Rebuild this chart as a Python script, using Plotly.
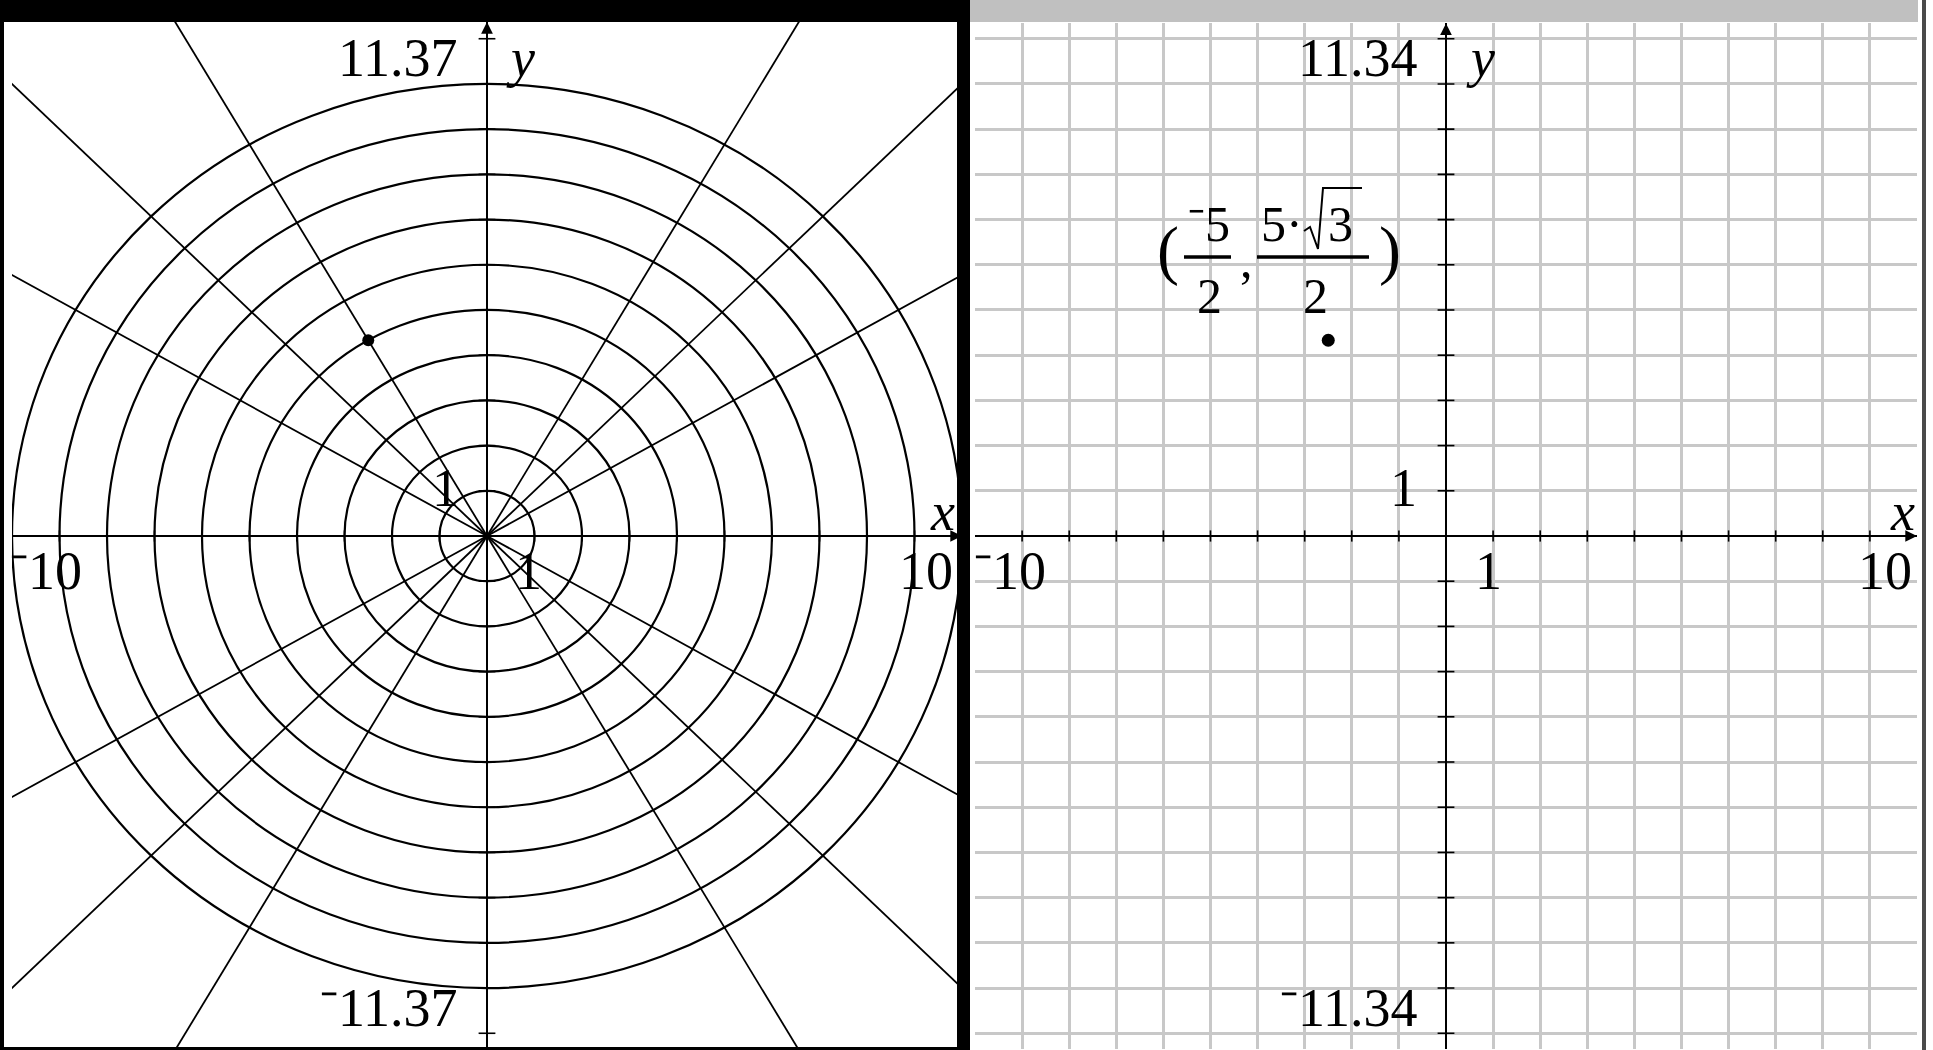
import numpy as np
import plotly.graph_objects as go

W, H = 1933, 1050
FONT = "Liberation Serif"

# polar grid and point
radii = [1, 2, 3, 4, 5, 6, 7, 8, 9, 10]
ray_angles_deg = [0, 30, 45, 60, 90, 120, 135, 150, 180, 210, 225, 240, 270, 300, 315, 330]
point_r = 5
point_theta_deg = 120

# window settings of the two graphs
x_window = [-10, 10]
y_window_polar = [-11.37, 11.37]
y_window_rect = [-11.34, 11.34]
x_tick_values = [-9, -8, -7, -6, -5, -4, -3, -2, -1, 1, 2, 3, 4, 5, 6, 7, 8, 9]
y_tick_values = [-11, -10, -9, -8, -7, -6, -5, -4, -3, -2, -1, 1, 2, 3, 4, 5, 6, 7, 8, 9, 10, 11]

polar_labels = {"ymax": "11.37", "ymin": "\u207b11.37", "xmin": "\u207b10", "xmax": "10", "unit": "1"}
rect_labels = {"ymax": "11.34", "ymin": "\u207b11.34", "xmin": "\u207b10", "xmax": "10", "unit": "1"}


def px(x):
    return x / W


def py(y):
    return 1 - y / H


point_x = point_r * np.cos(np.radians(point_theta_deg))
point_y = point_r * np.sin(np.radians(point_theta_deg))

fig = go.Figure()

# rays of the polar grid (long segments, clipped by the axes)
ray_x, ray_y = [], []
for a in ray_angles_deg:
    ray_x += [0, 30 * np.cos(np.radians(a)), None]
    ray_y += [0, 30 * np.sin(np.radians(a)), None]
fig.add_trace(go.Scatter(x=ray_x, y=ray_y, mode="lines", line=dict(color="black", width=1.8),
                         xaxis="x", yaxis="y", hoverinfo="skip", showlegend=False))

# ticks on both graphs
for xa, ya in [("x", "y"), ("x2", "y2")]:
    fig.add_trace(go.Scatter(x=x_tick_values, y=[0] * len(x_tick_values), mode="markers",
                             marker=dict(symbol="line-ns", size=8, line=dict(color="black", width=1.6)),
                             xaxis=xa, yaxis=ya, hoverinfo="skip", showlegend=False))
    fig.add_trace(go.Scatter(x=[0] * len(y_tick_values), y=y_tick_values, mode="markers",
                             marker=dict(symbol="line-ew", size=12, line=dict(color="black", width=1.6)),
                             xaxis=xa, yaxis=ya, hoverinfo="skip", showlegend=False))

# the point on both graphs
fig.add_trace(go.Scatter(x=[point_x], y=[point_y], mode="markers", marker=dict(color="black", size=12),
                         xaxis="x", yaxis="y", showlegend=False))
fig.add_trace(go.Scatter(x=[point_x], y=[point_y], mode="markers", marker=dict(color="black", size=13),
                         xaxis="x2", yaxis="y2", showlegend=False))

shapes = []
for r in radii:
    shapes.append(dict(type="circle", xref="x", yref="y", x0=-r, x1=r, y0=-r, y1=r,
                       line=dict(color="black", width=2.2), layer="above"))

# frames around the two screens
shapes += [
    dict(type="rect", xref="paper", yref="paper", x0=px(0), x1=px(970), y0=py(22), y1=py(0),
         fillcolor="black", line=dict(width=0), layer="above"),
    dict(type="rect", xref="paper", yref="paper", x0=px(0), x1=px(4), y0=py(1050), y1=py(0),
         fillcolor="black", line=dict(width=0), layer="above"),
    dict(type="rect", xref="paper", yref="paper", x0=px(957), x1=px(970), y0=py(1050), y1=py(0),
         fillcolor="black", line=dict(width=0), layer="above"),
    dict(type="rect", xref="paper", yref="paper", x0=px(0), x1=px(970), y0=py(1050), y1=py(1047),
         fillcolor="black", line=dict(width=0), layer="above"),
    dict(type="rect", xref="paper", yref="paper", x0=px(970), x1=px(1918), y0=py(22), y1=py(0),
         fillcolor="#c0c0c0", line=dict(width=0), layer="above"),
    dict(type="rect", xref="paper", yref="paper", x0=px(1922), x1=px(1926), y0=py(1050), y1=py(0),
         fillcolor="#4a4a4a", line=dict(width=0), layer="above"),
]

# fraction bars and radical sign of the coordinate label
root = [(1304, 231), (1310, 227), (1318, 249), (1323, 188), (1362, 188)]
root_path = "M " + " L ".join(f"{px(a):.5f} {py(b):.5f}" for a, b in root)
shapes += [
    dict(type="line", xref="paper", yref="paper", x0=px(1184), x1=px(1231), y0=py(257), y1=py(257),
         line=dict(color="black", width=3.5)),
    dict(type="line", xref="paper", yref="paper", x0=px(1257), x1=px(1369), y0=py(257), y1=py(257),
         line=dict(color="black", width=3.5)),
    dict(type="path", xref="paper", yref="paper", path=root_path, line=dict(color="black", width=2)),
]


def label(text, x, y, size=54, xanchor="center", yanchor="middle", italic=False):
    return dict(text=f"<i>{text}</i>" if italic else text, x=px(x), y=py(y), xref="paper", yref="paper",
                xanchor=xanchor, yanchor=yanchor, showarrow=False,
                font=dict(family=FONT, size=size, color="black"))


annotations = [
    # polar graph
    label(polar_labels["ymax"], 460, 58, xanchor="right"),
    label(polar_labels["ymin"], 460, 1008, xanchor="right"),
    label(polar_labels["xmin"], 8, 571, xanchor="left"),
    label(polar_labels["xmax"], 955, 571, xanchor="right"),
    label(polar_labels["unit"], 445, 488),
    label(polar_labels["unit"], 528, 571),
    label("y", 520, 58, italic=True),
    label("x", 942, 512, italic=True),
    # rectangular graph
    label(rect_labels["ymax"], 1420, 58, xanchor="right"),
    label(rect_labels["ymin"], 1420, 1008, xanchor="right"),
    label(rect_labels["xmin"], 972, 571, xanchor="left"),
    label(rect_labels["xmax"], 1914, 571, xanchor="right"),
    label(rect_labels["unit"], 1403, 488),
    label(rect_labels["unit"], 1488, 571),
    label("y", 1480, 58, italic=True),
    label("x", 1902, 512, italic=True),
    # coordinate label of the point
    label("(", 1168, 250, size=66),
    label("\u207b5", 1209, 224, size=50),
    label("2", 1209, 296, size=50),
    label(",", 1246, 260, size=50),
    label("5\u00b7", 1282, 224, size=50),
    label("3", 1340, 224, size=50),
    label("2", 1315, 296, size=50),
    label(")", 1390, 250, size=66),
]

# axis arrows
for xa, ya, ytop in [("x", "y", y_window_polar[1]), ("x2", "y2", y_window_rect[1])]:
    annotations.append(dict(x=0, y=ytop, xref=xa, yref=ya, ax=0, ay=26, text="", showarrow=True,
                            arrowhead=2, arrowsize=1.3, arrowwidth=1.8, arrowcolor="black", standoff=0))
    annotations.append(dict(x=x_window[1], y=0, xref=xa, yref=ya, ax=-26, ay=0, text="", showarrow=True,
                            arrowhead=2, arrowsize=1.3, arrowwidth=1.8, arrowcolor="black", standoff=0))

axis_common = dict(showticklabels=False, ticks="", zeroline=True, zerolinecolor="black", zerolinewidth=2,
                   showline=False, fixedrange=True)

fig.update_layout(
    width=W, height=H, autosize=False,
    margin=dict(l=0, r=0, t=0, b=0),
    paper_bgcolor="white", plot_bgcolor="white",
    showlegend=False,
    xaxis=dict(domain=[px(12), px(962)], range=x_window, showgrid=False, **axis_common),
    yaxis=dict(domain=[py(1050), py(22)], range=y_window_polar, showgrid=False, **axis_common),
    xaxis2=dict(domain=[px(975), px(1917)], range=x_window, showgrid=True, gridcolor="#c8c8c8",
                gridwidth=2.5, dtick=1, tick0=0, anchor="y2", **axis_common),
    yaxis2=dict(domain=[py(1048.6), py(23.4)], range=y_window_rect, showgrid=True, gridcolor="#c8c8c8",
                gridwidth=2.5, dtick=1, tick0=0, anchor="x2", **axis_common),
    shapes=shapes,
    annotations=annotations,
)

# the page itself should not add a margin round the figure
fig.write_html("out.html", config={"displayModeBar": False},
               post_script="document.body.style.margin = '0';")
